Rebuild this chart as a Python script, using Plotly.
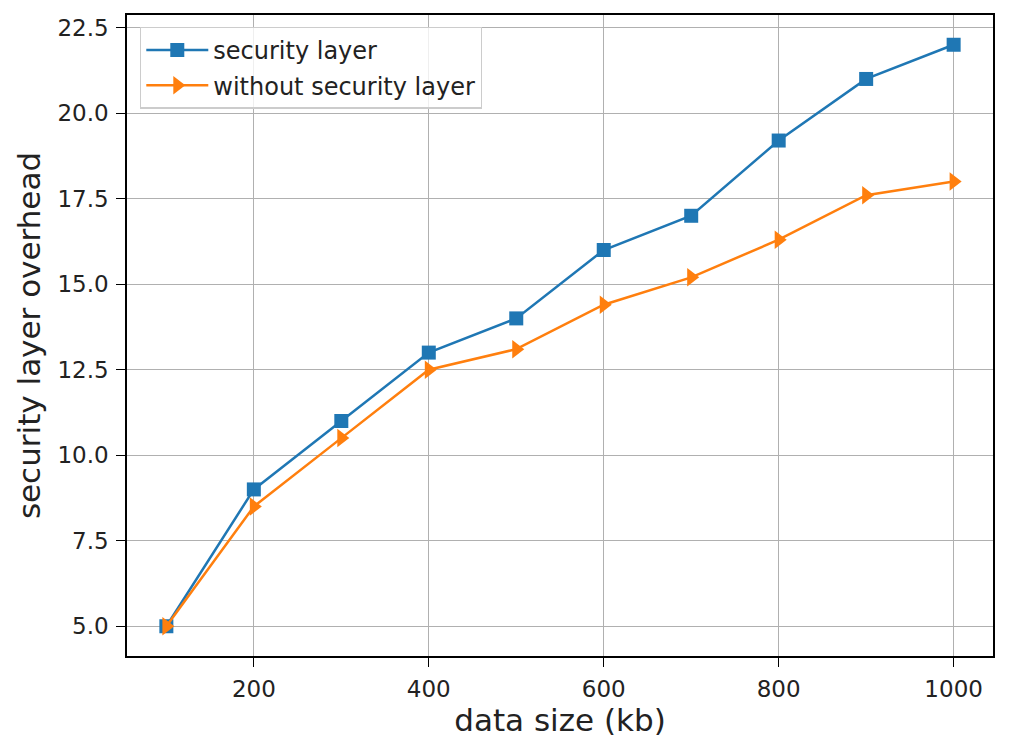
import plotly.graph_objects as go

data_size = [100, 200, 300, 400, 500, 600, 700, 800, 900, 1000]
with_security = [5.0, 9.0, 11.0, 13.0, 14.0, 16.0, 17.0, 19.2, 21.0, 22.0]
without_security = [5.0, 8.5, 10.5, 12.5, 13.1, 14.4, 15.2, 16.3, 17.6, 18.0]

fig = go.Figure()
fig.add_trace(go.Scatter(x=data_size, y=with_security, mode="lines+markers",
                         name="security layer", legendgroup="a",
                         line=dict(color="#1f77b4", width=2.5),
                         marker=dict(symbol="square", size=14, color="#1f77b4")))
fig.add_trace(go.Scatter(x=data_size, y=without_security, mode="lines+markers",
                         name="without security layer", legendgroup="b",
                         line=dict(color="#ff7f0e", width=2.5),
                         marker=dict(symbol="triangle-right", size=16, color="#ff7f0e")))

axis_style = dict(showline=True, linecolor="black", linewidth=1.5, mirror=True,
                  ticks="outside", ticklen=9, tickwidth=1.3, tickcolor="black",
                  ticklabelstandoff=3, automargin=False,
                  showgrid=True, gridcolor="#b0b0b0", gridwidth=1.3,
                  zeroline=False, tickfont=dict(size=23, color="#222"))

fig.update_xaxes(range=[55, 1045], tickvals=[200, 400, 600, 800, 1000],
                 title=dict(text="data size (kb)", font=dict(size=31, color="#222"), standoff=10),
                 **axis_style)
fig.update_yaxes(range=[4.13, 22.87], tickvals=[5, 7.5, 10, 12.5, 15, 17.5, 20, 22.5],
                 tickformat=".1f",
                 title=dict(text="security layer overhead", font=dict(size=31, color="#222"), standoff=8),
                 **axis_style)

# page body has an 8px margin, so the figure is a bit smaller than the window
fig.update_layout(
    width=1009, height=730,
    margin=dict(l=119, r=24, t=7, b=82),
    plot_bgcolor="white", paper_bgcolor="white",
    font=dict(family="DejaVu Sans", color="#222"),
    legend=dict(x=0.015, y=0.982, xanchor="left", yanchor="top",
                bgcolor="rgba(255,255,255,0.8)", bordercolor="#cccccc", borderwidth=1.3,
                font=dict(size=24), itemwidth=62, traceorder="grouped", tracegroupgap=1),
)

fig.write_html("out.html")
